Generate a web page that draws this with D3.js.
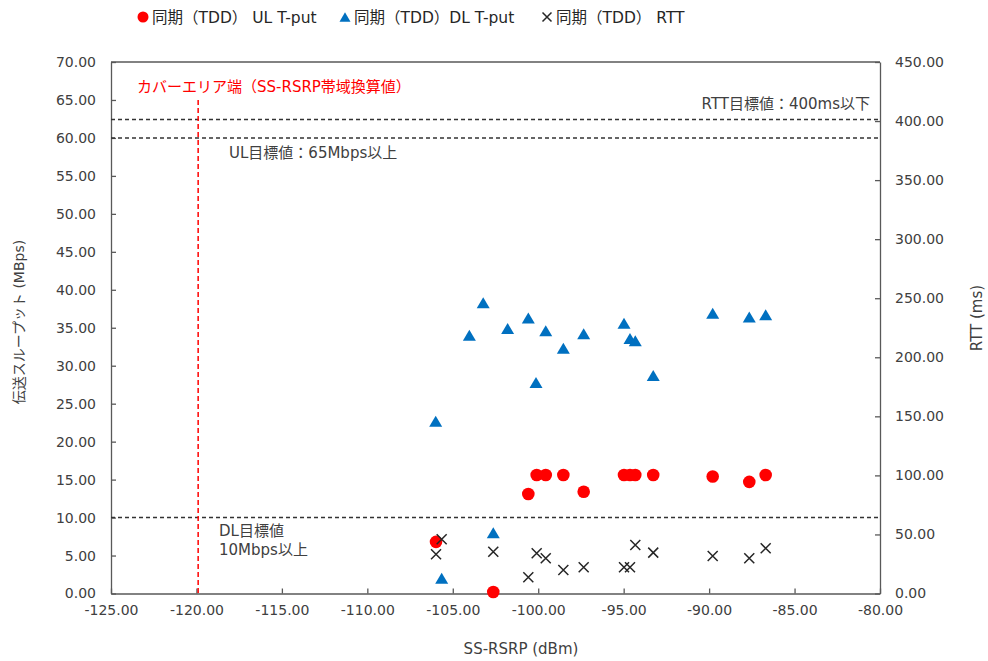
<!DOCTYPE html>
<html>
<head>
<meta charset="utf-8">
<script src="https://cdn.jsdelivr.net/npm/d3@7"></script>
<style>
  body { margin: 0; background: #fff; }
  svg { display: block; }
  text { font-family: "DejaVu Sans", "Noto Sans CJK JP", sans-serif; }
</style>
</head>
<body>
<svg id="chart" width="988" height="661"></svg>
<script>
// UL throughput (Mbps) vs SS-RSRP (dBm)
const ulRsrp = [-105.98, -102.63, -100.58, -100.09, -99.56, -98.53, -97.34, -94.98, -94.63, -94.32, -93.27, -89.79, -87.65, -86.69];
const ulTput = [6.8, 0.2, 13.1, 15.6, 15.6, 15.6, 13.4, 15.6, 15.6, 15.6, 15.6, 15.4, 14.7, 15.6];

// DL throughput (Mbps) vs SS-RSRP (dBm)
const dlRsrp = [-106.0, -105.65, -104.03, -103.22, -102.63, -101.79, -100.58, -100.13, -99.56, -98.53, -97.34, -94.98, -94.63, -94.32, -93.27, -89.79, -87.65, -86.69];
const dlTput = [22.7, 2.0, 34.0, 38.3, 8.0, 34.9, 36.3, 27.8, 34.6, 32.3, 34.2, 35.6, 33.6, 33.3, 28.7, 36.9, 36.4, 36.7];

// RTT (ms) vs SS-RSRP (dBm)
const rttRsrp = [-105.65, -105.98, -102.63, -100.58, -100.09, -99.56, -98.53, -97.34, -94.98, -94.63, -94.32, -93.27, -89.79, -87.65, -86.69];
const rttMs = [45.9, 33.2, 35.4, 13.7, 34.1, 29.8, 19.9, 22.2, 22.2, 22.2, 41.1, 34.6, 31.8, 29.8, 38.3];

// Axis ticks
const xTicks = [-125, -120, -115, -110, -105, -100, -95, -90, -85, -80];
const yLeftTicks = [0, 5, 10, 15, 20, 25, 30, 35, 40, 45, 50, 55, 60, 65, 70];
const yRightTicks = [0, 50, 100, 150, 200, 250, 300, 350, 400, 450];

// Reference lines
const coverageEdge = -119.9;
const ulTarget = 60;
const dlTarget = 10;
const rttTarget = 400;

// Legend entries
const legendLabels = ["同期（TDD） UL T-put", "同期（TDD）DL T-put", "同期（TDD） RTT"];

const RED = "#ff0000", BLUE = "#0070c0", DARK = "#262626", TEXT = "#404040", AXIS = "#595959";

const svg = d3.select("#chart");
const plot = { left: 111, right: 880, top: 62, bottom: 593.5 };

const x = d3.scaleLinear().domain([-125, -80]).range([plot.left, plot.right]);
const yL = d3.scaleLinear().domain([0, 70]).range([plot.bottom, plot.top]);
const yR = d3.scaleLinear().domain([0, 450]).range([plot.bottom, plot.top]);

// Two decimals with a plain hyphen for negatives
const fmt = d => d.toFixed(2);

// Axes (ticks point into the plot)
const styleAxis = g => {
  g.selectAll(".domain").attr("stroke", AXIS).attr("stroke-width", 1.3);
  g.selectAll(".tick line").attr("stroke", AXIS).attr("stroke-width", 1.3);
  g.selectAll(".tick text").attr("fill", TEXT).style("font-size", "14px")
    .style("font-family", '"DejaVu Sans", "Noto Sans CJK JP", sans-serif');
};

svg.append("g")
  .attr("transform", `translate(0,${plot.bottom})`)
  .call(d3.axisBottom(x).tickValues(xTicks).tickFormat(fmt).tickSize(-5).tickSizeOuter(0).tickPadding(12))
  .call(styleAxis);

svg.append("g")
  .attr("transform", `translate(${plot.left},0)`)
  .call(d3.axisLeft(yL).tickValues(yLeftTicks).tickFormat(fmt).tickSize(-5).tickSizeOuter(0).tickPadding(15))
  .call(styleAxis);

svg.append("g")
  .attr("transform", `translate(${plot.right},0)`)
  .call(d3.axisRight(yR).tickValues(yRightTicks).tickFormat(fmt).tickSize(-5).tickSizeOuter(0).tickPadding(15))
  .call(styleAxis);

// Top border
svg.append("line")
  .attr("x1", plot.left).attr("x2", plot.right)
  .attr("y1", plot.top).attr("y2", plot.top)
  .attr("stroke", AXIS).attr("stroke-width", 1.3);

// Target lines
const hLine = (yPos) => svg.append("line")
  .attr("x1", plot.left).attr("x2", plot.right)
  .attr("y1", yPos).attr("y2", yPos)
  .attr("stroke", "#333333").attr("stroke-width", 1.6)
  .attr("stroke-dasharray", "4,3");

hLine(yR(rttTarget) - 1.5);
hLine(yL(ulTarget));
hLine(yL(dlTarget));

svg.append("line")
  .attr("x1", x(coverageEdge)).attr("x2", x(coverageEdge))
  .attr("y1", yL(65)).attr("y2", plot.bottom)
  .attr("stroke", RED).attr("stroke-width", 1.5)
  .attr("stroke-dasharray", "5,3");

// Annotations
const note = (tx, ty, str, anchor, color) => svg.append("text")
  .attr("x", tx).attr("y", ty).attr("text-anchor", anchor || "start")
  .attr("fill", color || TEXT).style("font-size", "15px").text(str);

note(137, 92, "カバーエリア端（SS-RSRP帯域換算値）", "start", RED);
note(870, 109, "RTT目標値：400ms以下", "end");
note(229, 158, "UL目標値：65Mbps以上");
note(219, 536, "DL目標値");
note(219, 555, "10Mbps以上");

// Marker shapes
const triPath = (w, h) => `M0,${-h / 2}L${w / 2},${h / 2}L${-w / 2},${h / 2}Z`;
const crossPath = s => `M${-s},${-s}L${s},${s}M${-s},${s}L${s},${-s}`;

// DL throughput
svg.append("g").selectAll("path").data(dlRsrp.map((d, i) => [d, dlTput[i]])).join("path")
  .attr("transform", d => `translate(${x(d[0])},${yL(d[1])})`)
  .attr("d", triPath(13, 11)).attr("fill", BLUE);

// UL throughput
svg.append("g").selectAll("circle").data(ulRsrp.map((d, i) => [d, ulTput[i]])).join("circle")
  .attr("cx", d => x(d[0])).attr("cy", d => yL(d[1]))
  .attr("r", 6.3).attr("fill", RED);

// RTT
svg.append("g").selectAll("path").data(rttRsrp.map((d, i) => [d, rttMs[i]])).join("path")
  .attr("transform", d => `translate(${x(d[0])},${yR(d[1])})`)
  .attr("d", crossPath(5)).attr("stroke", DARK).attr("stroke-width", 1.5).attr("fill", "none");

// Axis titles
svg.append("text").attr("x", 521).attr("y", 654).attr("text-anchor", "middle")
  .attr("fill", TEXT).style("font-size", "15px").text("SS-RSRP (dBm)");

svg.append("text").attr("transform", "translate(24,322) rotate(-90)").attr("text-anchor", "middle")
  .attr("fill", TEXT).style("font-size", "14px").text("伝送スループット (MBps)");

svg.append("text").attr("transform", "translate(982,318) rotate(-90)").attr("text-anchor", "middle")
  .attr("fill", TEXT).style("font-size", "15px").text("RTT (ms)");

// Legend
const legendX = [143, 345, 547];
const legend = svg.append("g");
legendLabels.forEach((lab, i) => {
  const g = legend.append("g").attr("transform", `translate(${legendX[i]},17)`);
  if (i === 0) g.append("circle").attr("r", 5.5).attr("fill", RED);
  if (i === 1) g.append("path").attr("d", triPath(11, 9.5)).attr("fill", BLUE);
  if (i === 2) g.append("path").attr("d", crossPath(4.5)).attr("stroke", DARK).attr("stroke-width", 1.5);
  g.append("text").attr("x", 9).attr("y", 5.5).attr("fill", "#262626")
    .style("font-size", "15.5px").text(lab);
});
</script>
</body>
</html>
